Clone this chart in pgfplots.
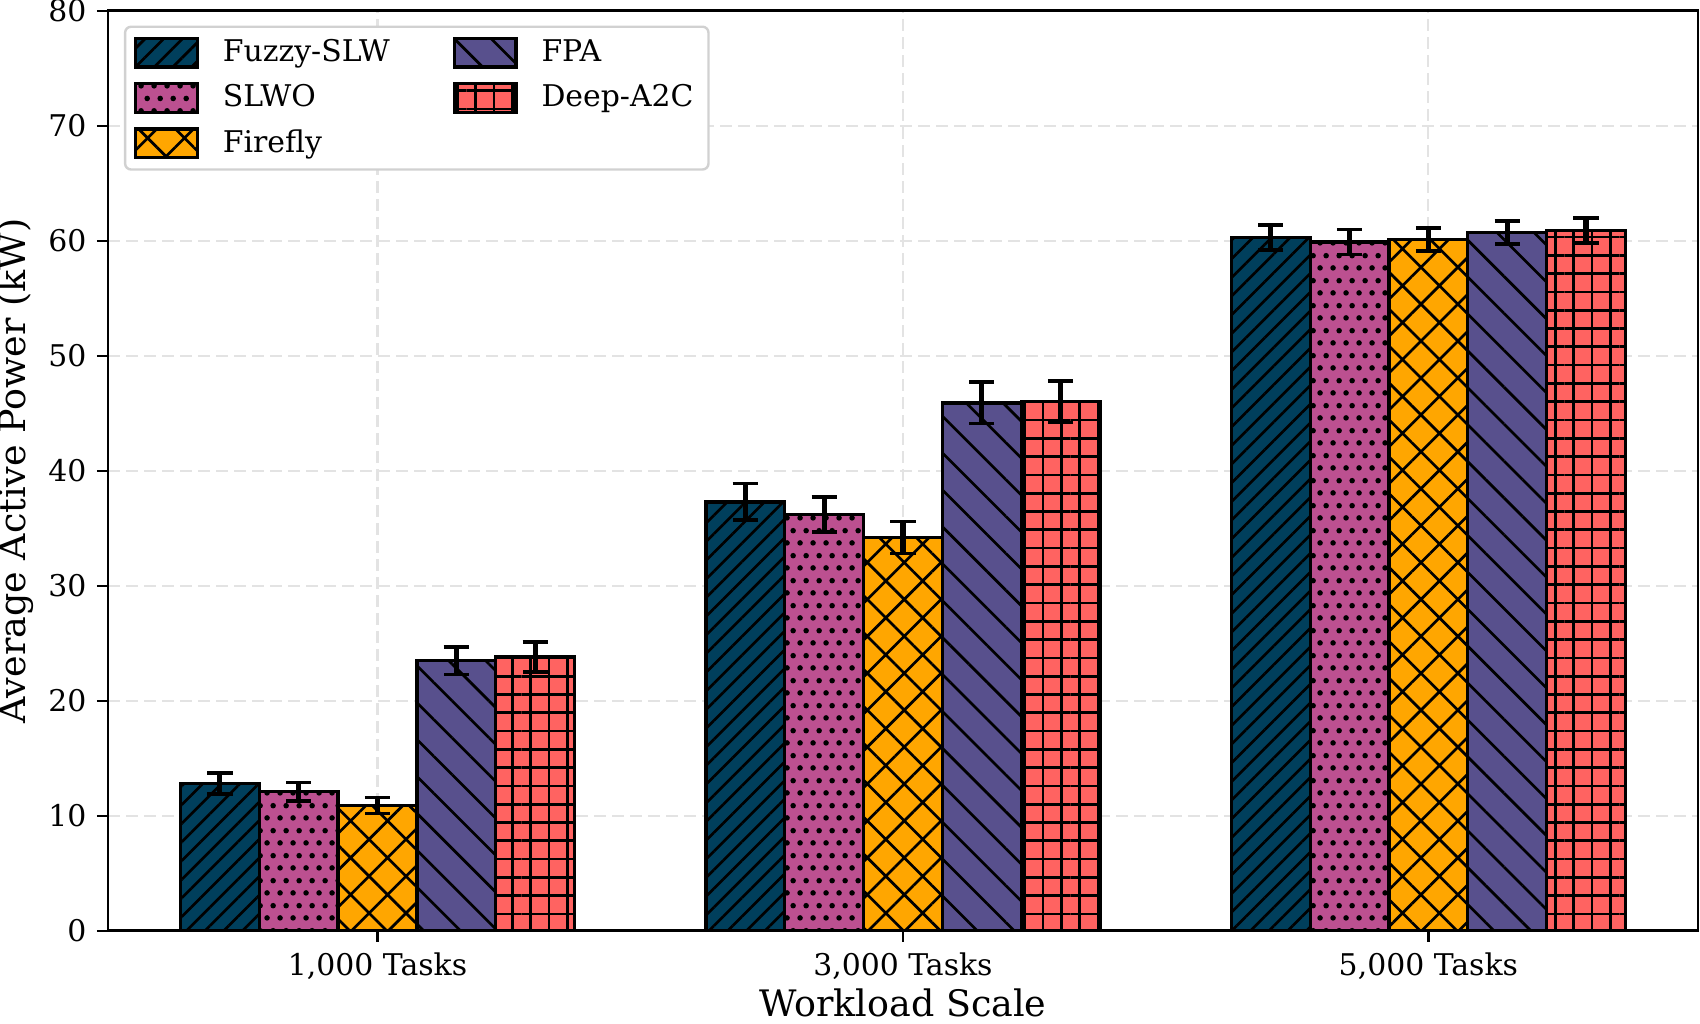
\documentclass[border=0pt]{standalone}
\usepackage{fontspec}
\setmainfont{DejaVu Serif}
\usepackage{pgfplots}
\pgfplotsset{compat=1.18}
\usetikzlibrary{patterns,patterns.meta}
\definecolor{cF}{HTML}{003F5C}
\definecolor{cS}{HTML}{BC5090}
\definecolor{cY}{HTML}{FFA600}
\definecolor{cP}{HTML}{58508D}
\definecolor{cD}{HTML}{FF6361}
\definecolor{gridc}{HTML}{E3E3E3}
\pgfdeclarepatternformonly{stagdots}{\pgfpointorigin}{\pgfpoint{4.2bp}{8.4bp}}{\pgfpoint{4.2bp}{8.4bp}}{%
  \pgfpathcircle{\pgfpoint{1.05bp}{2.1bp}}{0.95bp}%
  \pgfpathcircle{\pgfpoint{3.15bp}{6.3bp}}{0.95bp}%
  \pgfusepath{fill}}
\pgfplotsset{
  fuzzy/.style={preaction={fill=cF}, pattern={Lines[angle=45,distance=4.4bp,line width=0.9bp]}, pattern color=black, draw=black, line width=1.1bp},
  slwo/.style={preaction={fill=cS}, pattern=stagdots, pattern color=black, draw=black, line width=1.1bp},
  firefly/.style={preaction={fill=cY}, pattern={Hatch[angle=45,distance=8.7bp,line width=0.9bp]}, pattern color=black, draw=black, line width=1.1bp},
  fpa/.style={preaction={fill=cP}, pattern={Lines[angle=-45,distance=8.7bp,line width=0.9bp]}, pattern color=black, draw=black, line width=1.1bp},
  deep/.style={preaction={fill=cD}, pattern={Hatch[angle=0,distance=6.1bp,line width=0.9bp]}, pattern color=black, draw=black, line width=1.1bp},
  errs/.style={error bars/y dir=both, error bars/y explicit,
    error bars/error bar style={line width=1.7bp, draw=black, solid},
    error bars/error mark options={rotate=90, mark size=4.2bp, line width=1.2bp, black}},
}
\begin{document}
\begin{tikzpicture}
\begin{axis}[
  width=530bp, height=306.7bp, scale only axis,
  xmin=-0.513, xmax=2.513, ymin=0, ymax=80,
  ybar=0pt, bar width=0.15,
  xtick={0,1,2}, xticklabels={{1,000 Tasks},{3,000 Tasks},{5,000 Tasks}},
  ytick={0,10,...,80},
  xtick pos=lower, ytick pos=left,
  tick align=outside, major tick length=3.7bp,
  tick style={black, line width=0.8bp},
  axis line style={line width=0.9bp},
  grid=major,
  major grid style={draw=gridc, line width=0.7bp, dash pattern=on 4bp off 2bp},
  tick label style={font=\fontsize{10}{12}\selectfont},
  /pgf/number format/assume math mode=true,
  xlabel={Workload Scale}, ylabel={Average Active Power (kW)},
  label style={font=\fontsize{12.2}{14}\selectfont},
  xlabel style={at={(axis description cs:0.5,-0.0935)}, anchor=base},
  ylabel style={at={(axis description cs:-0.0579,0.5)}, anchor=center},
  legend columns=2, legend cell align=left,
  legend image code/.code={\draw[#1, sharp corners] (0bp,-4.8bp) rectangle (20.5bp,4.8bp);},
  legend style={at={(0.01,0.984)}, anchor=north west, draw=black!18, line width=0.8bp,
    rounded corners=2bp, fill=white, font=\fontsize{10}{12}\selectfont,
    inner xsep=3bp, inner ysep=2.2bp, row sep=2.2bp,
    /tikz/every odd column/.append style={column sep=6bp},
    /tikz/every even column/.append style={column sep=19bp}},
]
\addlegendimage{fuzzy}\addlegendentry{Fuzzy-SLW}
\addlegendimage{fpa}\addlegendentry{FPA}
\addlegendimage{slwo}\addlegendentry{SLWO}
\addlegendimage{deep}\addlegendentry{Deep-A2C}
\addlegendimage{firefly}\addlegendentry{Firefly}

\addplot[fuzzy, forget plot, bar shift=-0.3, errs] coordinates {(0,12.8) +- (0,0.9) (1,37.3) +- (0,1.6) (2,60.3) +- (0,1.1)};
\addplot[slwo, forget plot, bar shift=-0.15, errs] coordinates {(0,12.1) +- (0,0.8) (1,36.2) +- (0,1.5) (2,59.9) +- (0,1.1)};
\addplot[firefly, forget plot, bar shift=0, errs] coordinates {(0,10.9) +- (0,0.7) (1,34.2) +- (0,1.4) (2,60.1) +- (0,1.0)};
\addplot[fpa, forget plot, bar shift=0.15, errs] coordinates {(0,23.5) +- (0,1.2) (1,45.9) +- (0,1.8) (2,60.7) +- (0,1.0)};
\addplot[deep, forget plot, bar shift=0.3, errs] coordinates {(0,23.8) +- (0,1.3) (1,46.0) +- (0,1.8) (2,60.9) +- (0,1.1)};
\end{axis}
\pgfresetboundingbox
\path[use as bounding box] (-36bp,-31bp) rectangle (530.7bp,310.3bp);
\end{tikzpicture}
\end{document}
